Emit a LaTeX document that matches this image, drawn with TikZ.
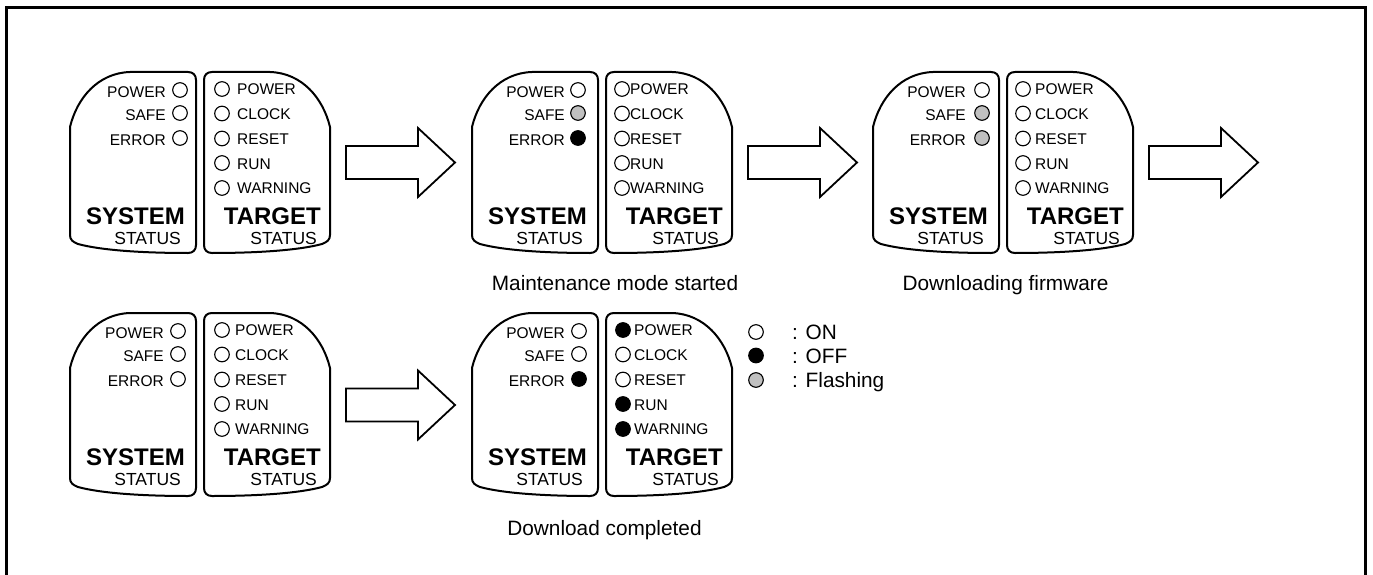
\documentclass[tikz,border=0pt]{standalone}
\usepackage{fontspec}
\setmainfont{Liberation Sans}
\definecolor{flash}{RGB}{192,192,192}
\tikzset{
 boxline/.style={line width=2pt, line join=round},
 arrowline/.style={line width=1.8pt, line join=miter, fill=white},
 frameline/.style={line width=3pt},
 led/.style={circle, draw=black, line width=1.1pt, minimum size=14.6pt, inner sep=0pt},
 lbl/.style={inner sep=0pt, font=\fontsize{15.5}{16}\selectfont},
 bigl/.style={inner sep=0pt, font=\fontsize{24}{24}\selectfont\bfseries},
 statl/.style={inner sep=0pt, font=\fontsize{17.5}{18}\selectfont},
 capl/.style={inner sep=0pt, font=\fontsize{20.8}{21}\selectfont},
}
\newcommand{\boxpath}[1]{(0,55) .. controls (7,26) and (28,1) .. (60,0) -- (118,0) .. controls (123,0) and (126,3) .. (126,8) -- (126,#1-8) .. controls (126,#1-3) and (123,#1) .. (118,#1) .. controls (70,#1) and (30,#1-3) .. (8,#1-9) .. controls (3,#1-11) and (0,#1-13) .. (0,#1-18) -- cycle}
\newcommand{\panelboxes}[3]{%
 \draw[boxline,shift={(#1,#2)}] \boxpath{#3};
 \draw[boxline,shift={(#1+260,#2)},xscale=-1] \boxpath{#3};
}
\newcommand{\sysleds}[7]{%
 \node[led,fill=#5] (#1p) at (#2,#4+18) {};
 \node[lbl,anchor=east] (#1pt) at (#3,#4+20) {POWER};
 \node[led,fill=#6] (#1s) at (#2,#4+41) {};
 \node[lbl,anchor=east] (#1st) at (#3,#4+43.5) {SAFE};
 \node[led,fill=#7] (#1e) at (#2,#4+66) {};
 \node[lbl,anchor=east] (#1et) at (#3,#4+68.5) {ERROR};
}
\newcommand{\tgtleds}[9]{%
 \node[led,fill=#5] (#1tp) at (#2,#4+17) {};
 \node[lbl,anchor=west] (#1tpt) at (#3,#4+17.5) {POWER};
 \node[led,fill=#6] (#1tc) at (#2,#4+41.5) {};
 \node[lbl,anchor=west] (#1tct) at (#3,#4+42.5) {CLOCK};
 \node[led,fill=#7] (#1tr) at (#2,#4+66.5) {};
 \node[lbl,anchor=west] (#1trt) at (#3,#4+67.5) {RESET};
 \node[led,fill=#8] (#1tu) at (#2,#4+91) {};
 \node[lbl,anchor=west] (#1tut) at (#3,#4+92) {RUN};
 \node[led,fill=#9] (#1tw) at (#2,#4+116) {};
 \node[lbl,anchor=west] (#1twt) at (#3,#4+116.5) {WARNING};
}
\newcommand{\titles}[3]{%
 \node[bigl,anchor=base east] (#1sys) at (#2+115,#3+152) {SYSTEM};
 \node[statl,anchor=base east] (#1sst) at (#2+111,#3+172) {STATUS};
 \node[bigl,anchor=base east] (#1tgt) at (#2+251,#3+152) {TARGET};
 \node[statl,anchor=base east] (#1tst) at (#2+247,#3+172) {STATUS};
}
\newcommand{\blockarrow}[2]{%
 \draw[arrowline] (#1,#2-16.5) -- (#1+72,#2-16.5) -- (#1+72,#2-34.5) -- (#1+109,#2) -- (#1+72,#2+34.5) -- (#1+72,#2+16.5) -- (#1,#2+16.5) -- cycle;
}
\begin{document}
\begin{tikzpicture}[x=1pt,y=-1pt]
\useasboundingbox (0,0) rectangle (1373,575);
\draw[frameline] (6.5,8) rectangle (1365,582);

% panel A
\panelboxes{70}{72}{181}
\sysleds{a}{180}{166}{72}{white}{white}{white}
\tgtleds{a}{222}{237}{72}{white}{white}{white}{white}{white}
\titles{a}{70}{72}
% panel B
\panelboxes{472}{72}{181}
\sysleds{b}{578}{565}{72}{white}{flash}{black}
\tgtleds{b}{622}{630}{72}{white}{white}{white}{white}{white}
\titles{b}{472}{72}
% panel C
\panelboxes{873}{72}{181}
\sysleds{c}{982}{966}{72}{white}{flash}{flash}
\tgtleds{c}{1023}{1035}{72}{white}{white}{white}{white}{white}
\titles{c}{873}{72}
% panel D
\panelboxes{70}{313}{183}
\sysleds{d}{178}{164}{313}{white}{white}{white}
\tgtleds{d}{222}{235}{313}{white}{white}{white}{white}{white}
\titles{d}{70}{313}
% panel E
\panelboxes{472}{313}{183}
\sysleds{e}{579}{565}{313}{white}{white}{black}
\tgtleds{e}{623}{634}{313}{black}{white}{white}{black}{black}
\titles{e}{472}{313}

% arrows
\blockarrow{346}{162.5}
\blockarrow{748}{162.5}
\blockarrow{1149}{162.5}
\blockarrow{346}{405}

% captions
\node[capl,anchor=base] (capb) at (615,290) {Maintenance mode started};
\node[capl,anchor=base] (capc) at (1005.5,290) {Downloading firmware};
\node[capl,anchor=base] (cape) at (604.5,535) {Download completed};

% legend
\node[led,fill=white] (lon) at (756,332) {};
\node[led,fill=black] (loff) at (756,355.5) {};
\node[led,fill=flash] (lfl) at (756,380) {};
\node[capl,anchor=base west] (lont) at (792,339) {: ON};
\node[capl,anchor=base west] (lofft) at (792,363) {: OFF};
\node[capl,anchor=base west] (lflt) at (792,387) {: Flashing};
\end{tikzpicture}
\end{document}
